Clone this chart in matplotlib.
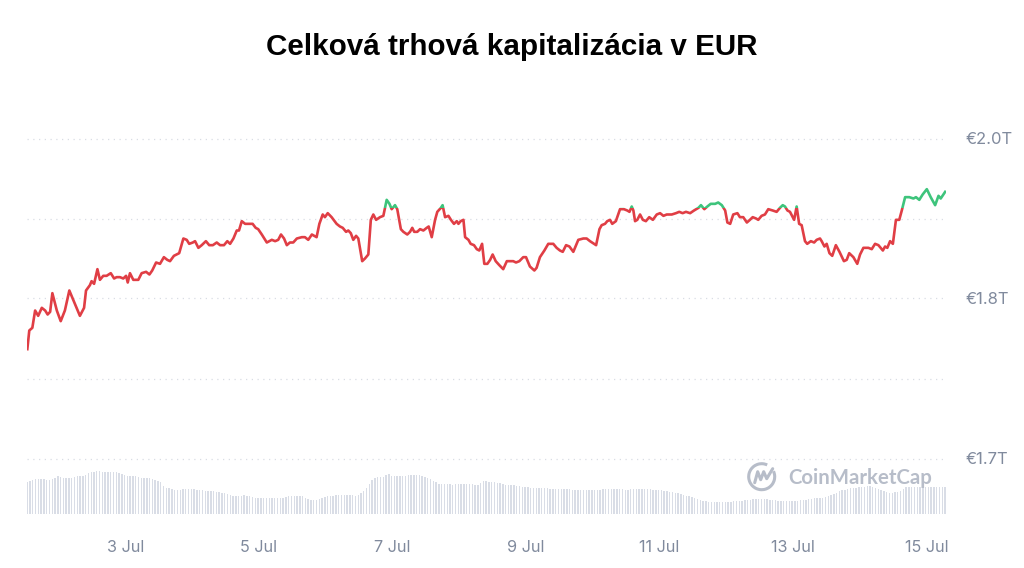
import matplotlib
matplotlib.use('Agg')
import matplotlib.pyplot as plt
import matplotlib.transforms as mtransforms
from matplotlib.patches import Rectangle, Arc
from matplotlib.lines import Line2D
import pandas as pd

# total market cap, hours after 1 Jul 00:00 -> trillion EUR
cap_hours = [
    12.7, 13.4, 14.5, 15.5, 16.6, 17.9, 19.1, 20.0, 20.9, 21.7, 23.3, 24.7, 26.2, 27.8, 29.8,
    31.6, 33.1, 33.8, 35.2, 35.8, 36.7, 37.9, 38.8, 40.0, 41.2, 42.7, 43.9, 44.8, 46.0, 47.2,
    48.2, 48.8, 49.6, 50.8, 52.6, 53.8, 55.4, 56.6, 57.6, 59.0, 60.4, 61.8, 63.0, 64.0, 65.4,
    67.3, 68.8, 70.0, 70.9, 72.2, 73.0, 74.2, 75.4, 76.9, 78.1, 79.4, 80.8, 82.0, 83.4, 84.6,
    85.6, 86.8, 88.0, 88.8, 89.8, 91.0, 92.2, 93.7, 94.8, 95.7, 97.0, 98.8, 100.6, 101.8, 102.9,
    103.9, 105.0, 106.0, 107.1, 108.3, 109.6, 111.4, 112.5, 113.7, 115.0, 116.7, 117.7, 118.9, 119.7, 120.7,
    122.1, 123.9, 125.1, 126.1, 127.3, 128.1, 129.0, 129.9, 130.9, 131.7, 133.1, 134.1, 135.3, 136.2, 137.1,
    138.1, 139.5, 140.7, 141.9, 142.9, 143.7, 144.9, 145.7, 147.0, 147.9, 149.3, 150.3, 151.1, 151.8, 152.9,
    153.9, 155.1, 156.3, 157.0, 158.1, 159.3, 160.1, 161.4, 162.0, 162.9, 164.1, 165.0, 166.1, 167.1, 167.7,
    168.5, 169.5, 170.1, 171.3, 172.1, 173.3, 174.3, 175.2, 176.2, 177.0, 178.1, 179.1, 180.0, 181.1, 182.4,
    183.8, 185.1, 186.5, 187.4, 188.4, 189.6, 191.0, 192.0, 193.4, 195.0, 195.8, 197.0, 198.6, 200.0, 201.8,
    203.0, 204.2, 205.2, 206.4, 207.6, 209.0, 210.8, 212.6, 213.8, 215.0, 217.2, 218.4, 219.2, 220.4, 221.2,
    222.2, 223.0, 224.3, 225.8, 227.2, 228.4, 229.2, 230.0, 230.6, 231.2, 232.0, 233.0, 234.0, 235.1, 236.3,
    237.6, 239.0, 240.2, 241.4, 242.6, 244.4, 245.9, 247.1, 248.3, 249.5, 251.0, 252.4, 254.0, 254.9, 256.1,
    257.2, 258.4, 260.0, 261.1, 262.4, 263.6, 264.4, 265.4, 266.5, 268.0, 268.9, 270.1, 271.4, 272.5, 273.5,
    274.7, 275.5, 276.7, 277.9, 279.1, 280.7, 282.1, 283.3, 284.3, 285.1, 286.0, 286.9, 287.9, 288.4, 289.3,
    290.2, 291.1, 292.3, 293.1, 294.4, 295.6, 296.5, 297.7, 298.3, 299.3, 300.1, 301.1, 302.1, 303.4, 304.7,
    306.3, 307.3, 308.2, 309.7, 311.1, 312.1, 313.3, 315.1, 316.3, 317.5, 318.7, 320.3, 321.1, 321.9, 322.9,
    323.9, 325.0, 326.2, 327.1, 328.3, 329.8, 331.3, 332.2, 333.4, 334.6, 336.1, 337.5, 339.1, 340.3, 341.1,
    342.7,
]
cap_values = [
    1.802, 1.816, 1.818, 1.831, 1.827, 1.833, 1.831, 1.828, 1.830, 1.844, 1.831, 1.823, 1.831, 1.846, 1.836,
    1.827, 1.833, 1.846, 1.850, 1.853, 1.851, 1.862, 1.854, 1.857, 1.857, 1.859, 1.855, 1.856, 1.856, 1.855,
    1.857, 1.852, 1.859, 1.854, 1.854, 1.859, 1.860, 1.858, 1.861, 1.867, 1.866, 1.871, 1.869, 1.868, 1.872,
    1.874, 1.885, 1.884, 1.881, 1.882, 1.883, 1.878, 1.880, 1.883, 1.880, 1.880, 1.882, 1.880, 1.880, 1.883,
    1.881, 1.885, 1.891, 1.891, 1.898, 1.896, 1.896, 1.896, 1.893, 1.892, 1.888, 1.882, 1.884, 1.883, 1.884,
    1.888, 1.885, 1.880, 1.882, 1.882, 1.885, 1.886, 1.886, 1.884, 1.888, 1.886, 1.896, 1.903, 1.901, 1.904,
    1.901, 1.896, 1.894, 1.893, 1.890, 1.891, 1.889, 1.884, 1.887, 1.885, 1.868, 1.870, 1.873, 1.899, 1.903,
    1.899, 1.901, 1.902, 1.914, 1.911, 1.907, 1.910, 1.907, 1.892, 1.890, 1.888, 1.890, 1.893, 1.890, 1.890,
    1.892, 1.891, 1.893, 1.894, 1.886, 1.899, 1.905, 1.908, 1.910, 1.901, 1.902, 1.899, 1.896, 1.898, 1.896,
    1.898, 1.899, 1.886, 1.884, 1.881, 1.880, 1.877, 1.876, 1.881, 1.866, 1.866, 1.869, 1.873, 1.868, 1.865,
    1.862, 1.868, 1.868, 1.868, 1.867, 1.868, 1.871, 1.871, 1.864, 1.861, 1.863, 1.871, 1.876, 1.881, 1.881,
    1.878, 1.876, 1.875, 1.880, 1.879, 1.875, 1.884, 1.885, 1.885, 1.883, 1.880, 1.892, 1.895, 1.896, 1.898,
    1.899, 1.896, 1.898, 1.907, 1.907, 1.906, 1.905, 1.909, 1.906, 1.898, 1.899, 1.903, 1.899, 1.898, 1.901,
    1.899, 1.903, 1.904, 1.902, 1.903, 1.903, 1.904, 1.905, 1.904, 1.905, 1.904, 1.906, 1.908, 1.910, 1.907,
    1.909, 1.911, 1.911, 1.912, 1.910, 1.906, 1.897, 1.896, 1.903, 1.904, 1.901, 1.901, 1.897, 1.899, 1.901,
    1.900, 1.899, 1.902, 1.903, 1.907, 1.906, 1.905, 1.908, 1.910, 1.909, 1.906, 1.905, 1.901, 1.899, 1.909,
    1.896, 1.895, 1.883, 1.881, 1.883, 1.882, 1.884, 1.885, 1.883, 1.879, 1.881, 1.874, 1.872, 1.880, 1.875,
    1.868, 1.869, 1.874, 1.871, 1.866, 1.873, 1.878, 1.878, 1.877, 1.881, 1.880, 1.876, 1.879, 1.878, 1.883,
    1.881, 1.899, 1.899, 1.906, 1.916, 1.916, 1.915, 1.916, 1.914, 1.918, 1.922, 1.916, 1.910, 1.917, 1.915,
    1.920,
]
baseline = 1.908  # above -> green, below -> red

# hourly volume (billion EUR), first bar at vol_start
vol_start = '2024-07-01 12:40'
volume = [
    65, 67, 69, 70, 70, 70, 70, 69, 68, 70, 73, 76, 74, 73, 73, 73, 73, 75, 76, 76,
    76, 79, 83, 84, 85, 86, 86, 85, 84, 84, 84, 84, 84, 82, 80, 78, 77, 77, 76, 76,
    75, 73, 73, 72, 72, 71, 69, 67, 64, 57, 52, 52, 51, 49, 48, 49, 50, 50, 50, 50,
    50, 49, 49, 48, 47, 47, 47, 46, 44, 44, 43, 42, 40, 38, 36, 36, 36, 37, 38, 37,
    36, 34, 33, 33, 33, 33, 33, 33, 33, 33, 33, 33, 33, 35, 36, 36, 36, 36, 36, 36,
    33, 31, 29, 29, 29, 30, 33, 35, 37, 37, 37, 38, 39, 39, 39, 39, 39, 39, 36, 38,
    42, 47, 53, 60, 68, 73, 74, 74, 75, 79, 81, 77, 76, 76, 76, 77, 77, 78, 79, 79,
    79, 79, 77, 75, 72, 70, 67, 64, 61, 60, 61, 61, 60, 59, 60, 60, 61, 61, 61, 61,
    60, 59, 59, 62, 66, 66, 65, 65, 64, 63, 63, 61, 59, 59, 59, 59, 57, 56, 55, 54,
    54, 53, 53, 52, 52, 52, 52, 52, 51, 51, 51, 51, 50, 50, 50, 50, 49, 49, 49, 48,
    48, 48, 48, 49, 49, 49, 49, 50, 51, 51, 51, 51, 50, 50, 50, 49, 49, 50, 50, 50,
    50, 50, 50, 50, 50, 49, 49, 49, 48, 47, 46, 45, 44, 43, 42, 40, 39, 37, 36, 35,
    33, 30, 28, 27, 26, 25, 25, 24, 24, 24, 24, 24, 25, 25, 26, 26, 27, 27, 28, 28,
    29, 30, 30, 31, 31, 31, 30, 29, 29, 28, 27, 26, 26, 26, 26, 26, 27, 27, 28, 28,
    29, 30, 31, 32, 32, 33, 33, 35, 36, 38, 40, 43, 46, 48, 49, 50, 52, 52, 53, 54,
    55, 55, 56, 56, 54, 52, 51, 49, 47, 45, 43, 43, 44, 44, 47, 50, 54, 55, 55, 55,
    55, 55, 55, 55, 55, 55, 55, 55, 55, 55, 55,
]

tick_dates = ['2024-07-03', '2024-07-05', '2024-07-07', '2024-07-09',
              '2024-07-11', '2024-07-13', '2024-07-15']
tick_labels = ['3 Jul', '5 Jul', '7 Jul', '9 Jul', '11 Jul', '13 Jul', '15 Jul']
grid_levels = [1.72, 1.78, 1.84, 1.90, 1.96]
y_ticks = [1.72, 1.84, 1.96]
y_labels = ['€1.7T', '€1.8T', '€2.0T']

RED = '#e03e45'
GREEN = '#3ec47c'
GREY = '#808a9d'

start = pd.Timestamp('2024-07-01')
cap_times = start + pd.to_timedelta(cap_hours, unit='h')
vol_times = pd.date_range(vol_start, periods=len(volume), freq='h')

fig = plt.figure(figsize=(10.24, 5.68), dpi=100)
rect = [27 / 1024, 54 / 568, 919 / 1024, 414 / 568]

# volume bars behind
ax_vol = fig.add_axes(rect)
ax_vol.bar(vol_times, volume, width=0.5 / 24, color='#d9dde6', linewidth=0)
ax_vol.set_ylim(0, 828)
ax_vol.axis('off')

ax = fig.add_axes(rect, sharex=ax_vol)
ax.patch.set_alpha(0)
for s in ax.spines.values():
    s.set_visible(False)

for g in grid_levels:
    ax.axhline(g, color='#d9dde4', lw=0.9, ls=(0, (1, 3.6)), zorder=0)

trans = mtransforms.blended_transform_factory(ax.transAxes, ax.transData)
red_line, = ax.plot(cap_times, cap_values, color=RED, lw=1.9, solid_joinstyle='round')
green_line, = ax.plot(cap_times, cap_values, color=GREEN, lw=1.9, solid_joinstyle='round')
red_line.set_clip_path(Rectangle((0, 1.0), 1, baseline - 1.0, transform=trans))
green_line.set_clip_path(Rectangle((0, baseline), 1, 1.0, transform=trans))

ax.set_xlim(start + pd.Timedelta(hours=12.58), start + pd.Timedelta(hours=343.0))
ax.set_ylim(1.678375, 1.988875)

ax.yaxis.tick_right()
ax.set_yticks(y_ticks)
ax.set_yticklabels(y_labels, family=['Inter', 'DejaVu Sans'], fontsize=12, color=GREY)
ax.set_xticks(pd.to_datetime(tick_dates))
ax.set_xticklabels(tick_labels, family=['Inter', 'DejaVu Sans'], fontsize=11.7, color=GREY)
ax.tick_params(axis='y', length=0, pad=14)
ax.tick_params(axis='x', length=0, pad=19)

fig.text(0.5, 1 - 47 / 568, 'Celková trhová kapitalizácia v EUR', ha='center', va='center',
         fontsize=21.3, fontweight='bold', family='Liberation Sans', color='black')

# CoinMarketCap watermark
wm = '#b7bdc9'
fig.text(788 / 1024, 1 - 478 / 568, 'CoinMarketCap', ha='left', va='center',
         fontsize=14.7, fontweight='bold', family='Lato', color=wm)
cx, cy = 761.7, 568 - 476.7
fig.add_artist(Arc((cx, cy), 26, 26, theta1=65, theta2=385, lw=2.2, color=wm,
                   transform=mtransforms.IdentityTransform()))
fig.add_artist(Line2D([cx - 7, cx - 4, cx - 1, cx + 2, cx + 5, cx + 8, cx + 11],
                      [cy - 6, cy + 5, cy - 3, cy + 5, cy - 2, cy + 3, cy + 8],
                      lw=2.2, color=wm, solid_capstyle='round', solid_joinstyle='round',
                      transform=mtransforms.IdentityTransform()))

fig.savefig('out.png', dpi=100)
